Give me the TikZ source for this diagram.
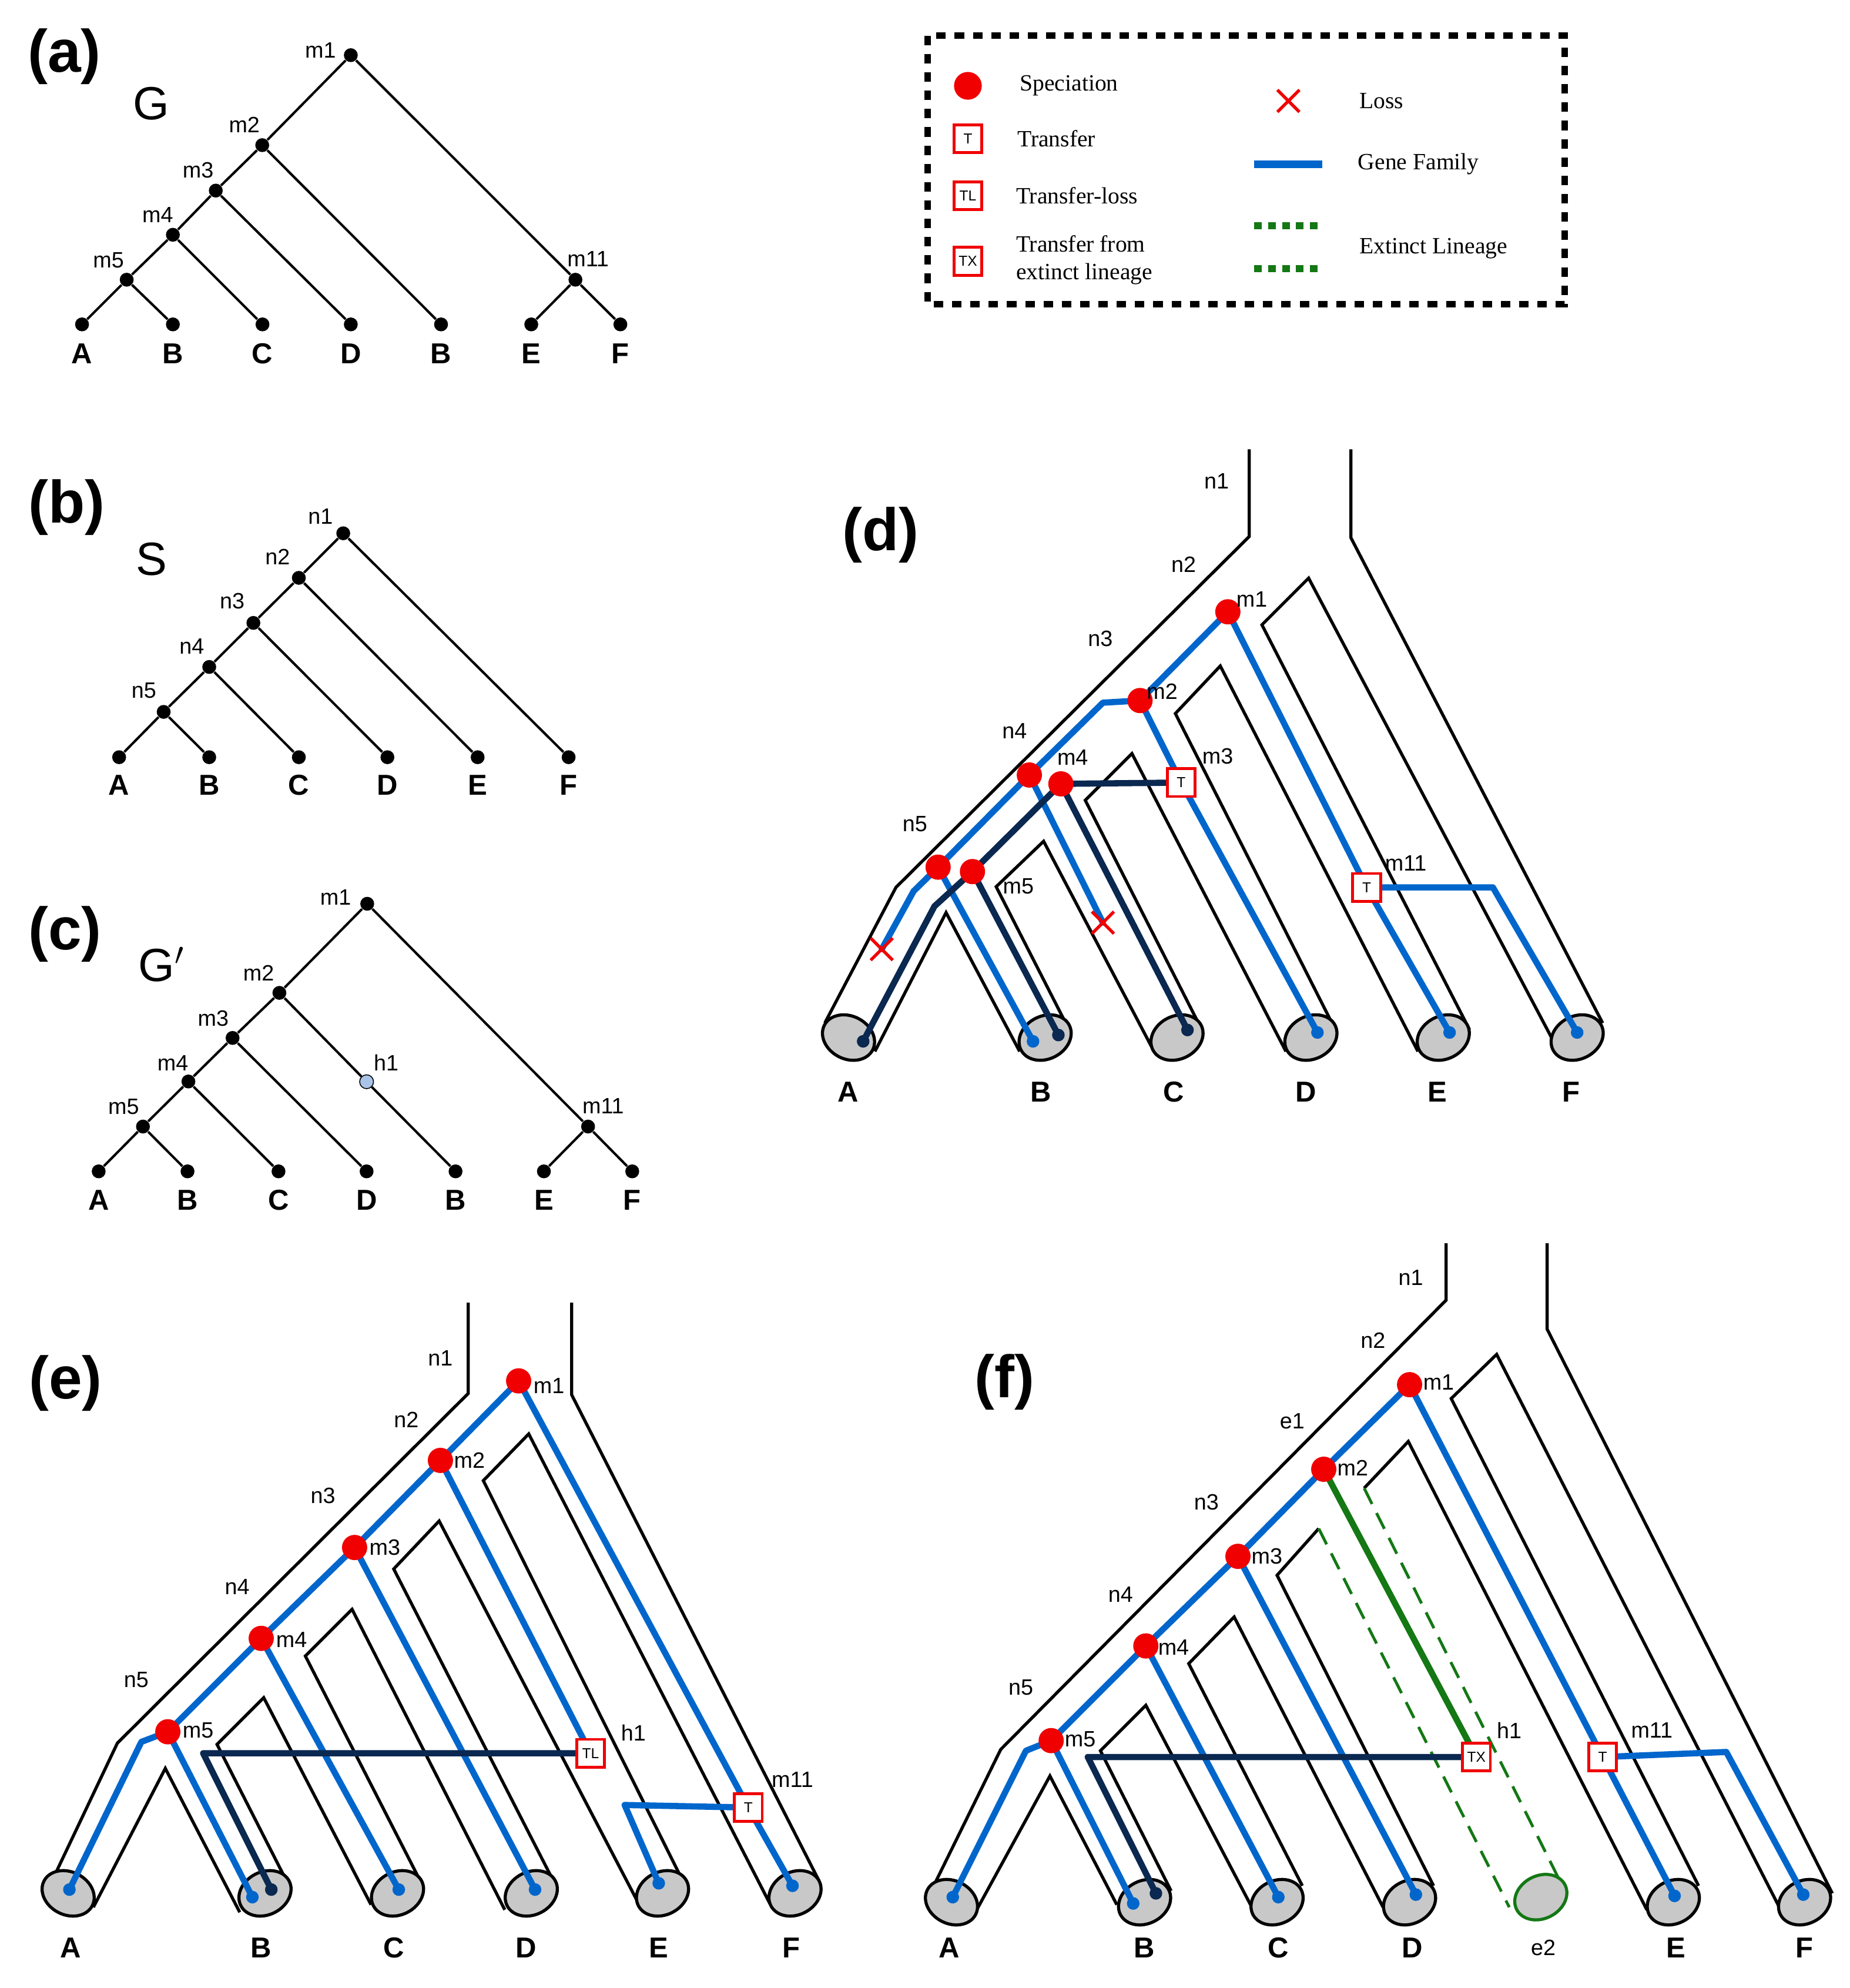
\documentclass[tikz,border=0pt]{standalone}
\usepackage{fontspec}
\setmainfont{Liberation Serif}
\setsansfont{Liberation Sans}
\usetikzlibrary{shapes.geometric,shapes.misc}
\definecolor{gblue}{RGB}{0,102,204}
\definecolor{navy}{RGB}{10,40,80}
\definecolor{ggreen}{RGB}{20,120,20}
\definecolor{capgray}{RGB}{200,200,200}
\definecolor{redc}{RGB}{240,0,0}
\definecolor{hblue}{RGB}{170,196,232}
\begin{document}
\begin{tikzpicture}[x=0.02cm,y=-0.02cm,
  tl/.style={line width=1.1pt},
  tdot/.style={circle,fill=black,inner sep=0,minimum size=0.22cm},
  hdot/.style={circle,fill=hblue,draw=black,line width=0.4pt,inner sep=0,minimum size=0.22cm},
  tube/.style={line width=1.4pt,line join=miter},
  capR/.style={ellipse,draw=black,line width=1.4pt,fill=capgray,minimum width=0.86cm,minimum height=0.68cm,inner sep=0,rotate=27},
  capL/.style={capR,rotate=-54},
  gene/.style={line width=2.8pt,gblue,line join=round,line cap=round},
  dk/.style={line width=2.8pt,navy,line join=round,line cap=round},
  gdot/.style={circle,fill=gblue,inner sep=0,minimum size=0.2cm},
  ddot/.style={circle,fill=navy,inner sep=0,minimum size=0.2cm},
  spec/.style={circle,fill=redc,inner sep=0,minimum size=0.4cm},
  tbox/.style={rectangle,draw=redc,line width=1.3pt,fill=white,minimum size=0.44cm,inner sep=0,font=\sffamily\fontsize{6.5}{7}\selectfont},
  lossx/.style={cross out,draw=redc,line width=1.4pt,minimum size=0.3cm,inner sep=0},
  lab/.style={font=\sffamily\fontsize{10}{12}\selectfont},
  leaf/.style={font=\sffamily\bfseries\fontsize{13}{15}\selectfont},
  panel/.style={font=\sffamily\bfseries\fontsize{27}{30}\selectfont},
  big/.style={font=\sffamily\fontsize{21}{24}\selectfont},
  leg/.style={font=\fontsize{10.5}{12.5}\selectfont,anchor=west,align=left}]
\path[use as bounding box] (0,0) rectangle (1466,1575);

% ---------------- (a)
\node[panel] (pa) at (51,45) {(a)};
\node[big] (Gl) at (120,82) {G};
\node[tdot] (a1) at (278,43.7) {};
\node[tdot] (a2) at (207.8,115) {};
\node[tdot] (a3) at (171,151) {};
\node[tdot] (a4) at (137,186) {};
\node[tdot] (a5) at (100.4,221.6) {};
\node[tdot] (a11) at (456,221.6) {};
\foreach \n/\x in {A/65,B/137,C/208,D/278,B2/349.5,E/421,F/491.6}{\node[tdot] (a\n) at (\x,257) {};}
\draw[tl] (a1)--(a2) (a1)--(a11) (a2)--(a3) (a2)--(aB2) (a3)--(a4) (a3)--(aD) (a4)--(a5) (a4)--(aC) (a5)--(aA) (a5)--(aB) (a11)--(aE) (a11)--(aF);
\foreach \n/\x/\t in {A/65/A,B/137/B,C/208/C,D/278/D,B2/349.5/B,E/421/E,F/491.6/F}{\node[leaf] (la\n) at (\x,280) {\t};}
\node[lab] (lam1) at (254,40) {m1};
\node[lab] (lam2) at (193.6,99) {m2};
\node[lab] (lam3) at (157,135) {m3};
\node[lab] (lam4) at (125,170) {m4};
\node[lab] (lam5) at (86,206) {m5};
\node[lab] (lam11) at (466,205) {m11};

% ---------------- legend
\draw[line width=0.1cm,dash pattern=on 0.15cm off 0.14cm] (735.2,28.3) rectangle (1240,241);
\node[spec,minimum size=0.44cm] (lgs) at (767,68) {};
\node[leg] (lgst) at (802,68) {Speciation};
\node[tbox] (lgt) at (767,110) {T};
\node[leg] (lgtt) at (800,110) {Transfer};
\node[tbox] (lgtl) at (767,155) {TL};
\node[leg] (lgtlt) at (799,155) {Transfer-loss};
\node[tbox] (lgtx) at (767,207) {TX};
\node[leg] (lgtxt) at (799,206) {Transfer from\\extinct lineage};
\node[lossx] (lgx) at (1021,80) {};
\node[leg] (lgxt) at (1071,80) {Loss};
\coordinate (lgg1) at (994,130); \coordinate (lgg2) at (1048,130);
\draw[line width=0.12cm,gblue] (lgg1)--(lgg2);
\node[leg] (lggt) at (1070,130) {Gene Family};
\coordinate (lge1) at (994,179); \coordinate (lge2) at (1048,179);
\coordinate (lge3) at (994,213); \coordinate (lge4) at (1048,213);
\draw[line width=0.11cm,ggreen,dash pattern=on 0.12cm off 0.1cm] (lge1)--(lge2) (lge3)--(lge4);
\node[leg] (lget) at (1071,197) {Extinct Lineage};

% ---------------- (b)
\node[panel] (pb) at (53,402) {(b)};
\node[big] (Sl) at (120,443) {S};
\node[tdot] (b1) at (272,422.5) {};
\node[tdot] (b2) at (236.8,457.8) {};
\node[tdot] (b3) at (200.8,493.5) {};
\node[tdot] (b4) at (165.8,528.4) {};
\node[tdot] (b5) at (129.7,564) {};
\foreach \n/\x in {A/94.4,B/165.8,C/236.8,D/307,E/378.5,F/450.6}{\node[tdot] (b\n) at (\x,599.9) {}; \node[leaf] (lb\n) at (\x,622) {\n};}
\draw[tl] (b1)--(b2) (b1)--(bF) (b2)--(b3) (b2)--(bE) (b3)--(b4) (b3)--(bD) (b4)--(b5) (b4)--(bC) (b5)--(bA) (b5)--(bB);
\node[lab] (lbn1) at (254,409) {n1};
\node[lab] (lbn2) at (220,441) {n2};
\node[lab] (lbn3) at (184,476) {n3};
\node[lab] (lbn4) at (152,512) {n4};
\node[lab] (lbn5) at (114,547) {n5};

% ---------------- (c)
\node[panel] (pc) at (51.5,740) {(c)};
\node[big] (Gpl) at (128,764) {G$'$};
\node[tdot] (c1) at (291,716) {};
\node[tdot] (c2) at (221.4,786.6) {};
\node[tdot] (c3) at (184.3,822.3) {};
\node[tdot] (c4) at (149.3,856.8) {};
\node[tdot] (c5) at (113.3,892.5) {};
\node[hdot] (ch1) at (290.5,857) {};
\node[tdot] (c11) at (466,892.5) {};
\foreach \n/\x/\t in {A/78.2/A,B/148.6/B,C/220.7/C,D/290.5/D,B2/361/B,E/431/E,F/501/F}{\node[tdot] (c\n) at (\x,928) {}; \node[leaf] (lc\n) at (\x,951) {\t};}
\draw[tl] (c1)--(c2) (c1)--(c11) (c2)--(c3) (c2)--(ch1) (ch1)--(cB2) (c3)--(c4) (c3)--(cD) (c4)--(c5) (c4)--(cC) (c5)--(cA) (c5)--(cB) (c11)--(cE) (c11)--(cF);
\node[lab] (lcm1) at (266,711) {m1};
\node[lab] (lcm2) at (205,771) {m2};
\node[lab] (lcm3) at (169,807) {m3};
\node[lab] (lcm4) at (137,842) {m4};
\node[lab] (lcm5) at (98,877) {m5};
\node[lab] (lch1) at (306,842) {h1};
\node[lab] (lcm11) at (478,876) {m11};

% ---------------- (d)
\node[panel] (pd) at (698,424) {(d)};
\draw[tube] (990,356)--(990,425)--(710,703)--(653.6,810.5);
\draw[tube] (1070.5,356)--(1070.5,426)--(1270,810.5);
\draw[tube] (1164.5,815.7)--(1000,495)--(1037,458)--(1230,823);
\draw[tube] (1123.6,833)--(967,527.6)--(931.4,565.3)--(1059,817.4);
\draw[tube] (1019,833)--(897,597)--(860,634)--(952.3,815.7);
\draw[tube] (912.6,829.4)--(827,666.5)--(789.4,702.5)--(848,817.4);
\draw[tube] (808,833)--(749.7,723)--(693.3,833);
\node[capL] (dcA) at (672.4,822) {};
\foreach \n/\x in {B/828.2,C/932.7,D/1038.8,E/1143.7,F/1249.8}{\node[capR] (dc\n) at (\x,822) {};}
\coordinate (dm1) at (973,484.7);
\coordinate (dm2) at (903.4,555);
\coordinate (dn4) at (815.7,614);
\coordinate (dm4) at (840.7,621);
\coordinate (dn5) at (743.4,687);
\coordinate (dm5) at (770.6,690.5);
\coordinate (dT1) at (936,620);
\coordinate (dT2) at (1083,703);
\coordinate (dbA) at (724,706);
\coordinate (dbB) at (874,556.7);
\coordinate (dkA) at (740.5,718);
\coordinate (dTF) at (1183,703);
\coordinate (dX1) at (698.7,752);
\coordinate (dX2) at (874,731);
\coordinate (dlA) at (684,825);
\coordinate (dlB1) at (818.6,825);
\coordinate (dlB2) at (838.7,820);
\coordinate (dlC) at (941,816);
\coordinate (dlD) at (1044,818);
\coordinate (dlE) at (1148.7,818);
\coordinate (dlF) at (1249.8,818);
\draw[gene] (dm1)--(dm2)--(dbB)--(dn4)--(dn5)--(dbA)--(dX1);
\draw[gene] (dn4)--(dX2);
\draw[gene] (dn5)--(dlB1);
\draw[gene] (dm2)--(dT1)--(dlD);
\draw[gene] (dm1)--(dT2)--(dlE);
\draw[gene] (dT2)--(dTF)--(dlF);
\draw[dk] (dm4)--(dT1);
\draw[dk] (dm4)--(dm5)--(dkA)--(dlA);
\draw[dk] (dm5)--(dlB2);
\draw[dk] (dm4)--(dlC);
\node[ddot] (ddA) at (dlA) {};
\node[gdot] (ddB1) at (dlB1) {};
\node[ddot] (ddB2) at (dlB2) {};
\node[ddot] (ddC) at (dlC) {};
\foreach \n in {D,E,F}{\node[gdot] (dd\n) at (dl\n) {};}
\foreach \n in {m1,m2,n4,m4,n5,m5}{\node[spec] (ds\n) at (d\n) {};}
\node[tbox] (dt1) at (dT1) {T};
\node[tbox] (dt2) at (dT2) {T};
\node[lossx] (dx1) at (dX1) {};
\node[lossx] (dx2) at (dX2) {};
\node[lab] (ldn1) at (964,381) {n1};
\node[lab] (ldn2) at (938,447) {n2};
\node[lab] (ldn3) at (872,506) {n3};
\node[lab] (ldn4) at (804,579) {n4};
\node[lab] (ldn5) at (725,653) {n5};
\node[lab] (ldm1) at (992,475) {m1};
\node[lab] (ldm2) at (921,548) {m2};
\node[lab] (ldm3) at (965,599) {m3};
\node[lab] (ldm4) at (850,600) {m4};
\node[lab] (ldm5) at (807,702) {m5};
\node[lab] (ldm11) at (1114,684) {m11};
\foreach \n/\x in {A/672,B/825,C/930,D/1035,E/1139,F/1245}{\node[leaf] (ld\n) at (\x,865) {\n};}

% ---------------- (e)
\node[panel] (pe) at (52,1096) {(e)};
\draw[tube] (371,1032)--(371,1104)--(93,1381)--(37,1499);
\draw[tube] (453,1032)--(453,1105)--(649,1490);
\draw[tube] (543,1494)--(383,1173)--(419,1136)--(610,1508);
\draw[tube] (506,1508)--(348,1205)--(312,1243)--(441,1495);
\draw[tube] (400,1513)--(279,1275)--(242,1312)--(335,1494);
\draw[tube] (294,1509)--(209,1345)--(172,1382)--(229,1494);
\draw[tube] (190,1515)--(131,1401)--(74,1511);
\node[capL] (ecA) at (54,1500) {};
\foreach \n/\x in {B/210,C/315,D/421,E/525,F/630}{\node[capR] (ec\n) at (\x,1500) {};}
\coordinate (em1) at (411,1094);
\coordinate (em2) at (349,1157);
\coordinate (em3) at (281,1226);
\coordinate (em4) at (207,1298);
\coordinate (em5) at (133,1372);
\coordinate (eTL) at (468,1389);
\coordinate (eT) at (593,1432);
\coordinate (ebA) at (112,1380);
\coordinate (ekB) at (161,1389);
\coordinate (ebE) at (495,1430);
\coordinate (elA) at (55,1497);
\coordinate (elB1) at (200,1503);
\coordinate (elB2) at (215,1497);
\coordinate (elC) at (316,1497);
\coordinate (elD) at (424,1497);
\coordinate (elE) at (522,1492);
\coordinate (elF) at (628,1494);
\draw[gene] (em1)--(em2)--(em3)--(em4)--(em5)--(ebA)--(elA);
\draw[gene] (em5)--(elB1);
\draw[gene] (em4)--(elC);
\draw[gene] (em3)--(elD);
\draw[gene] (em2)--(eTL);
\draw[gene] (em1)--(eT)--(elF);
\draw[gene] (eT)--(ebE)--(elE);
\draw[dk] (eTL)--(ekB)--(elB2);
\node[gdot] (edA) at (elA) {};
\node[gdot] (edB1) at (elB1) {};
\node[ddot] (edB2) at (elB2) {};
\foreach \n in {C,D,E,F}{\node[gdot] (ed\n) at (el\n) {};}
\foreach \n in {m1,m2,m3,m4,m5}{\node[spec] (es\n) at (e\n) {};}
\node[tbox] (etl) at (eTL) {TL};
\node[tbox] (et) at (eT) {T};
\node[lab] (len1) at (349,1076) {n1};
\node[lab] (len2) at (322,1125) {n2};
\node[lab] (len3) at (256,1185) {n3};
\node[lab] (len4) at (188,1257) {n4};
\node[lab] (len5) at (108,1331) {n5};
\node[lab] (lem1) at (435,1098) {m1};
\node[lab] (lem2) at (372,1157) {m2};
\node[lab] (lem3) at (305,1226) {m3};
\node[lab] (lem4) at (231,1299) {m4};
\node[lab] (lem5) at (157,1371) {m5};
\node[lab] (leh1) at (502,1373) {h1};
\node[lab] (lem11) at (628,1410) {m11};
\foreach \n/\x in {A/56,B/207,C/312,D/417,E/522,F/627}{\node[leaf] (le\n) at (\x,1543) {\n};}

% ---------------- (f)
\node[panel] (pf) at (796,1095) {(f)};
\draw[tube] (1146,985)--(1146,1030)--(793,1386)--(735,1504);
\draw[tube] (1226,985)--(1226,1053)--(1452,1500);
\draw[tube] (1346,1494)--(1150,1108)--(1186,1073)--(1410,1511);
\draw[tube] (1305,1513)--(1116,1142)--(1081,1179);
\draw[tube] (1045,1211)--(1012,1248)--(1136,1494);
\draw[tube] (1096,1511)--(978,1281)--(942,1318)--(1032,1494);
\draw[tube] (992,1511)--(908,1351)--(872,1387)--(928,1498);
\draw[tube] (885,1509)--(832,1407)--(774,1513);
\draw[ggreen,line width=1.3pt,dash pattern=on 0.28cm off 0.16cm] (1081,1179)--(1238,1494);
\draw[ggreen,line width=1.3pt,dash pattern=on 0.28cm off 0.16cm] (1045,1211)--(1196,1511);
\node[capL] (fcA) at (754,1507) {};
\foreach \n/\x in {B/907,C/1012,D/1117,E/1326,F/1430}{\node[capR] (fc\n) at (\x,1507) {};}
\node[capR,draw=ggreen] (fce2) at (1221,1503) {};
\coordinate (fm1) at (1117,1097);
\coordinate (fm2) at (1049,1164);
\coordinate (fm3) at (981,1233);
\coordinate (fm4) at (908,1304);
\coordinate (fm5) at (833,1379);
\coordinate (fTX) at (1170,1392);
\coordinate (fT) at (1270,1392);
\coordinate (fbA) at (813,1387);
\coordinate (fkB) at (862,1392);
\coordinate (fbF) at (1368,1388);
\coordinate (flA) at (755,1503);
\coordinate (flB1) at (898,1508);
\coordinate (flB2) at (916,1500);
\coordinate (flC) at (1013,1503);
\coordinate (flD) at (1122,1501);
\coordinate (flE) at (1327,1502);
\coordinate (flF) at (1429,1501);
\draw[gene] (fm1)--(fm2)--(fm3)--(fm4)--(fm5)--(fbA)--(flA);
\draw[gene] (fm5)--(flB1);
\draw[gene] (fm4)--(flC);
\draw[gene] (fm3)--(flD);
\draw[gene] (fm1)--(fT)--(flE);
\draw[gene] (fT)--(fbF)--(flF);
\draw[line width=2.8pt,ggreen,line cap=round] (fm2)--(fTX);
\draw[dk] (fTX)--(fkB)--(flB2);
\node[gdot] (fdA) at (flA) {};
\node[gdot] (fdB1) at (flB1) {};
\node[ddot] (fdB2) at (flB2) {};
\foreach \n in {C,D,E,F}{\node[gdot] (fd\n) at (fl\n) {};}
\foreach \n in {m1,m2,m3,m4,m5}{\node[spec] (fs\n) at (f\n) {};}
\node[tbox] (ftx) at (fTX) {TX};
\node[tbox] (ft) at (fT) {T};
\node[lab] (lfn1) at (1118,1012) {n1};
\node[lab] (lfn2) at (1088,1062) {n2};
\node[lab] (lfe1) at (1024,1126) {e1};
\node[lab] (lfn3) at (956,1190) {n3};
\node[lab] (lfn4) at (888,1263) {n4};
\node[lab] (lfn5) at (809,1337) {n5};
\node[lab] (lfm1) at (1140,1095) {m1};
\node[lab] (lfm2) at (1072,1163) {m2};
\node[lab] (lfm3) at (1004,1233) {m3};
\node[lab] (lfm4) at (930,1305) {m4};
\node[lab] (lfm5) at (856,1378) {m5};
\node[lab] (lfh1) at (1196,1371) {h1};
\node[lab] (lfm11) at (1309,1371) {m11};
\node[lab] (lfe2) at (1223,1543) {e2};
\foreach \n/\x in {A/752,B/907,C/1013,D/1119,E/1328,F/1430}{\node[leaf] (lf\n) at (\x,1543) {\n};}
\end{tikzpicture}
\end{document}
